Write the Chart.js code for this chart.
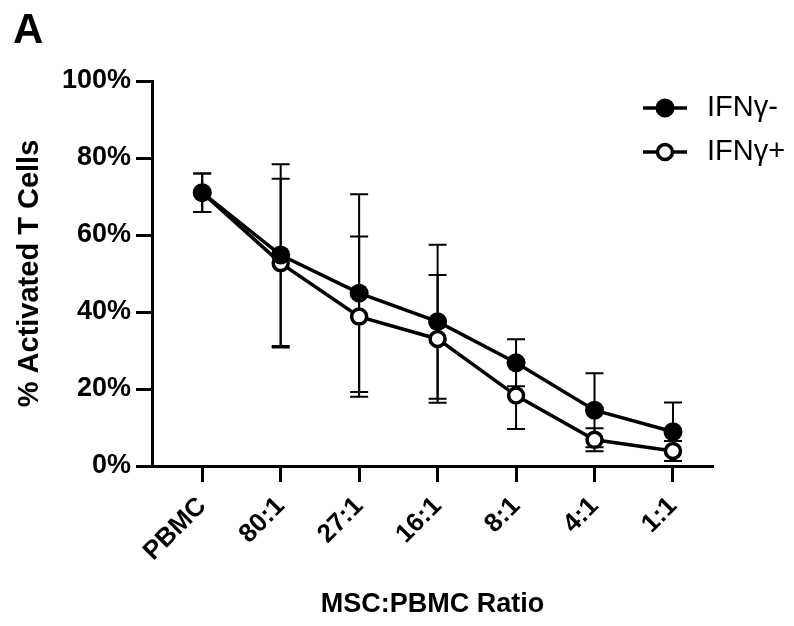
<!DOCTYPE html>
<html lang="en">

<head>
  <meta charset="UTF-8">
  <script src="https://cdn.jsdelivr.net/npm/chart.js"></script>
  <style>
    html, body {
      margin: 0;
      padding: 0;
      background: #fff;
    }
  </style>
</head>

<body>
  <canvas id="myChart" width="794" height="626"></canvas>
</body>
<script>
  // data
  const ratios = ['PBMC', '80:1', '27:1', '16:1', '8:1', '4:1', '1:1'];
  const ifnNeg = [71, 54.8, 44.9, 37.5, 26.8, 14.5, 8.9];
  const ifnNegSd = [5, 23.6, 25.7, 20, 6.1, 9.6, 7.6];
  const ifnPos = [71, 52.7, 38.8, 33, 18.3, 6.8, 3.9];
  const ifnPosSd = [5, 21.9, 20.8, 16.6, 8.7, 3, 2.6];
  const yTicks = [0, 20, 40, 60, 80, 100];

  const FONT = "'Liberation Sans', Arial, sans-serif";

  const toPoints = arr => arr.map((v, i) => ({ x: i, y: v }));

  // error bars, drawn under the lines
  const errorBars = {
    id: 'errorBars',
    beforeDatasetsDraw(chart) {
      const { ctx, scales: { x, y } } = chart;
      const sets = [[ifnPos, ifnPosSd], [ifnNeg, ifnNegSd]];
      ctx.save();
      ctx.strokeStyle = '#000';
      ctx.lineWidth = 2;
      sets.forEach(([vals, sds]) => {
        vals.forEach((v, i) => {
          const px = x.getPixelForValue(i);
          const top = y.getPixelForValue(v + sds[i]);
          const bot = y.getPixelForValue(Math.max(v - sds[i], 0));
          ctx.beginPath();
          ctx.moveTo(px, top);
          ctx.lineTo(px, bot);
          ctx.moveTo(px - 9, top);
          ctx.lineTo(px + 9, top);
          ctx.moveTo(px - 9, bot);
          ctx.lineTo(px + 9, bot);
          ctx.stroke();
        });
      });
      ctx.restore();
    }
  };

  // panel letter and legend
  const extras = {
    id: 'extras',
    afterDraw(chart) {
      const ctx = chart.ctx;
      ctx.save();
      ctx.fillStyle = '#000';
      ctx.font = 'bold 42px ' + FONT;
      ctx.textBaseline = 'alphabetic';
      ctx.fillText('A', 13, 43);

      const items = [
        { label: 'IFNγ-', filled: true, y: 108 },
        { label: 'IFNγ+', filled: false, y: 152 }
      ];
      items.forEach(it => {
        ctx.strokeStyle = '#000';
        ctx.lineWidth = 3.5;
        ctx.beginPath();
        ctx.moveTo(643, it.y);
        ctx.lineTo(687, it.y);
        ctx.stroke();
        ctx.beginPath();
        ctx.arc(665, it.y, it.filled ? 9.5 : 7.5, 0, Math.PI * 2);
        ctx.fillStyle = it.filled ? '#000' : '#fff';
        ctx.fill();
        if (!it.filled) ctx.stroke();
        ctx.fillStyle = '#000';
        ctx.font = '29px ' + FONT;
        ctx.textBaseline = 'middle';
        ctx.fillText(it.label, 707, it.y);
      });
      ctx.restore();
    }
  };

  const ctx = document.getElementById('myChart').getContext('2d');
  const chart = new Chart(ctx, {
    type: 'line',
    data: {
      datasets: [
        {
          label: 'IFNγ-',
          data: toPoints(ifnNeg),
          borderColor: '#000',
          backgroundColor: '#000',
          borderWidth: 3.5,
          pointRadius: 9.5,
          pointBorderWidth: 0,
          pointBackgroundColor: '#000',
          order: 0
        },
        {
          label: 'IFNγ+',
          data: toPoints(ifnPos),
          borderColor: '#000',
          backgroundColor: '#fff',
          borderWidth: 3.5,
          pointRadius: 7.5,
          pointBorderWidth: 3.5,
          pointBackgroundColor: '#fff',
          pointBorderColor: '#000',
          order: 1
        }
      ]
    },
    options: {
      responsive: false,
      animation: false,
      layout: { padding: { top: 81, right: 81, bottom: 0, left: 0 } },
      plugins: {
        legend: { display: false },
        tooltip: { enabled: false }
      },
      scales: {
        x: {
          type: 'linear',
          min: -0.64,
          max: 6.51,
          afterFit: s => { s.height = 160; },
          afterBuildTicks: s => { s.ticks = ratios.map((r, i) => ({ value: i })); },
          border: { display: true, color: '#000', width: 3 },
          grid: { display: true, drawOnChartArea: false, drawTicks: true, tickLength: 16, tickWidth: 3, tickColor: '#000' },
          ticks: {
            autoSkip: false,
            minRotation: 45,
            maxRotation: 45,
            padding: 9,
            color: '#000',
            font: { family: FONT, size: 26, weight: 'bold' },
            callback: v => ratios[v]
          },
          title: {
            display: true,
            text: 'MSC:PBMC Ratio',
            color: '#000',
            font: { family: FONT, size: 27, weight: 'bold' },
            padding: { top: 0, bottom: 5 }
          }
        },
        y: {
          min: 0,
          max: 100,
          afterFit: s => { s.width = 152; },
          afterBuildTicks: s => { s.ticks = yTicks.map(v => ({ value: v })); },
          border: { display: true, color: '#000', width: 3 },
          grid: { display: true, drawOnChartArea: false, drawTicks: true, tickLength: 16, tickWidth: 3, tickColor: '#000' },
          ticks: {
            padding: 5,
            color: '#000',
            font: { family: FONT, size: 27, weight: 'bold' },
            callback: v => v + '%'
          },
          title: {
            display: true,
            text: '% Activated T Cells',
            color: '#000',
            font: { family: FONT, size: 29, weight: 'bold' },
            padding: { top: 13, bottom: 0 }
          }
        }
      }
    },
    plugins: [errorBars, extras]
  });
</script>

</html>
